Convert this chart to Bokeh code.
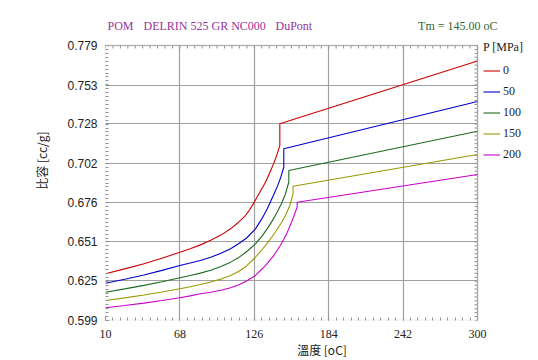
import numpy as np
from bokeh.plotting import figure
from bokeh.models import (FixedTicker, Range1d, Legend, LegendItem, Label,
                          BoxAnnotation, NumeralTickFormatter)
from bokeh.embed import file_html
from bokeh.resources import INLINE

# ---------------- data ----------------
pressures = ["0", "50", "100", "150", "200"]
colors = ["#cc0000", "#0000cc", "#1e6b1e", "#9a9a00", "#cc00cc"]

# solid phase (T, v) up to the transition temperature
t_p0 = [10, 25, 40, 54, 68, 76, 84, 92, 100, 107.5, 113, 119.1, 122.5, 125.6, 130, 134.7, 138, 141.2, 143.5, 145.9]
v_p0 = [0.6296, 0.6328, 0.6362, 0.6398, 0.6437, 0.6460, 0.6485, 0.6515, 0.6549, 0.6590, 0.6628, 0.6677,
        0.6716, 0.6760, 0.6824, 0.6895, 0.6955, 0.7020, 0.7072, 0.7135]
t_p50 = [10, 25, 40, 54, 68, 76, 84, 92, 100, 107.5, 114, 120, 126.9, 132.2, 136.1, 141.2, 144, 146.4, 149.0]
v_p50 = [0.6234, 0.6260, 0.6288, 0.6318, 0.6350, 0.6366, 0.6383, 0.6404, 0.6430, 0.6460, 0.6494, 0.6530,
         0.6590, 0.6660, 0.6722, 0.6815, 0.6868, 0.6922, 0.6993]
t_p100 = [10, 25, 40, 54, 68, 76, 84, 92, 100, 107.5, 114, 120, 126.9, 132, 136, 140, 143.5, 147, 150, 152.9]
v_p100 = [0.6175, 0.6197, 0.6220, 0.6244, 0.6270, 0.6284, 0.6300, 0.6319, 0.6343, 0.6372, 0.6403, 0.6440,
          0.6492, 0.6542, 0.6590, 0.6642, 0.6693, 0.6752, 0.6812, 0.6895]
t_p150 = [10, 25, 40, 54, 68, 76, 84, 92, 100, 107.5, 114, 120, 126.9, 132, 136, 140, 143.5, 147, 150.3, 153.7, 156.2]
v_p150 = [0.6121, 0.6138, 0.6157, 0.6177, 0.6198, 0.6211, 0.6226, 0.6242, 0.6261, 0.6285, 0.6312, 0.6347,
          0.6404, 0.6453, 0.6495, 0.6540, 0.6582, 0.6628, 0.6677, 0.6743, 0.6819]
t_p200 = [10, 25, 40, 54, 68, 76, 84, 92, 100, 107.5, 114, 120, 126.9, 132, 136, 140, 142.5, 146.4, 149, 151.6, 155.5, 159.4]
v_p200 = [0.6073, 0.6088, 0.6104, 0.6121, 0.6139, 0.6151, 0.6165, 0.6175, 0.6188, 0.6204, 0.6224, 0.6248,
          0.6285, 0.6327, 0.6362, 0.6403, 0.6432, 0.6483, 0.6522, 0.6565, 0.6643, 0.6732]

# melt phase: value just above the transition, and value at 300 oC
melt_v_start = [0.7278, 0.7114, 0.6972, 0.6869, 0.6764]
melt_t_end = 300
melt_v_end = [0.7689, 0.7423, 0.7229, 0.7077, 0.6946]

solid_t = [t_p0, t_p50, t_p100, t_p150, t_p200]
solid_v = [v_p0, v_p50, v_p100, v_p150, v_p200]

x_ticks = [10, 68, 126, 184, 242, 300]
y_ticks = [0.599, 0.625, 0.651, 0.676, 0.702, 0.728, 0.753, 0.779]

title_parts = ["POM", "DELRIN 525 GR NC000", "DuPont"]
tm_text = "Tm = 145.00 oC"
x_label = "溫度 [oC]"
y_label = "比容 [cc/g]"
legend_title = "P [MPa]"

# ---------------- geometry ----------------
W, H = 538, 360
LEFT, BOTTOM = 105, 40            # frame starts here; frame extends to the top/right edges
PLOT_W, PLOT_H = 372, 275          # size of the drawn plot box
x0, x1 = x_ticks[0], x_ticks[-1]
y0, y1 = y_ticks[0], y_ticks[-1]
dx = (x1 - x0) / PLOT_W            # data units per pixel
dy = (y1 - y0) / PLOT_H
x_hi = x0 + (W - LEFT) * dx
y_hi = y0 + (H - BOTTOM) * dy

p = figure(width=W, height=H, output_backend="svg", toolbar_location=None,
           x_range=Range1d(x0, x_hi), y_range=Range1d(y0, y_hi),
           min_border_left=LEFT, min_border_right=0, min_border_top=0,
           min_border_bottom=BOTTOM, background_fill_color="white",
           border_fill_color="white")
p.outline_line_color = None

x_minor = list(np.linspace(x0, x1, 51))
y_minor = list(np.linspace(y0, y1, 71))
xt = FixedTicker(ticks=x_ticks, minor_ticks=x_minor)
yt = FixedTicker(ticks=y_ticks, minor_ticks=y_minor)

p.xaxis.ticker = xt
p.yaxis.ticker = yt
p.yaxis.formatter = NumeralTickFormatter(format="0.000")

for ax in (p.xaxis[0], p.yaxis[0]):
    ax.axis_line_color = None
    ax.major_tick_in = 4
    ax.major_tick_out = 0
    ax.minor_tick_in = 3
    ax.minor_tick_out = 0
    ax.major_tick_line_color = "#909090"
    ax.minor_tick_line_color = "#909090"
    ax.major_label_text_color = "#222222"
    ax.major_label_text_font_size = "12px"
    ax.axis_label_text_font_style = "normal"
    ax.axis_label_text_font_size = "12px"
    ax.axis_label_text_color = "#222222"

p.xaxis.major_label_text_font = "Liberation Serif"
p.xaxis.major_label_standoff = 9
p.xaxis.axis_label = x_label
p.xaxis.axis_label_text_font = "Noto Sans CJK TC"
p.xaxis.axis_label_standoff = 0

p.yaxis.major_label_text_font = "Liberation Sans"
p.yaxis.major_label_standoff = 8
p.yaxis.axis_label = y_label
p.yaxis.axis_label_text_font = "Noto Sans CJK TC"
p.yaxis.axis_label_standoff = 14

# ---------------- grid limited to the plot box ----------------
xg, yg = p.xgrid[0], p.ygrid[0]
xg.ticker = xt
yg.ticker = yt
for g in (xg, yg):
    g.grid_line_color = "#a0a0a0"
    g.grid_line_width = 1.2
if "cross_bounds" in xg.properties():
    xg.cross_bounds = (y0, y1)
    yg.cross_bounds = (x0, x1)
else:
    p.grid.visible = False
    p.segment(x0=x_ticks, x1=x_ticks, y0=[y0] * len(x_ticks), y1=[y1] * len(x_ticks),
              line_color="#a0a0a0", line_width=1.2)
    p.segment(x0=[x0] * len(y_ticks), x1=[x1] * len(y_ticks), y0=y_ticks, y1=y_ticks,
              line_color="#a0a0a0", line_width=1.2)

# minor ticks on the top and right edges of the plot box
p.segment(x0=x_minor, x1=x_minor, y0=[y1] * len(x_minor), y1=[y1 - 3 * dy] * len(x_minor),
          line_color="#909090", line_width=1)
p.segment(x0=[x1] * len(y_minor), x1=[x1 - 3 * dx] * len(y_minor), y0=y_minor, y1=y_minor,
          line_color="#909090", line_width=1)

# ---------------- curves ----------------
items = []
for i in range(len(pressures)):
    ts = list(solid_t[i]) + [solid_t[i][-1], melt_t_end]
    vs = list(solid_v[i]) + [melt_v_start[i], melt_v_end[i]]
    r = p.line(ts, vs, line_color=colors[i], line_width=1.1)
    items.append(LegendItem(label=pressures[i], renderers=[r]))

# plot box border
p.add_layout(BoxAnnotation(left=x0, right=x1, bottom=y0, top=y1, fill_alpha=0,
                           line_color="#c4c4c4", line_width=2))

legend = Legend(items=items, location=(PLOT_W + 6, 157), title=legend_title,
                title_text_font="Liberation Serif", title_text_font_size="12px",
                title_text_font_style="normal", title_text_color="#222222",
                title_standoff=7,
                label_text_font="Liberation Serif", label_text_font_size="12px",
                label_text_color="#222222",
                glyph_width=17, glyph_height=17, label_height=17, label_standoff=3,
                spacing=4, padding=0, margin=0, border_line_color=None,
                background_fill_alpha=0)
p.add_layout(legend)

# ---------------- header texts ----------------
y_head = y1 + 20 * dy
for txt, px in zip(title_parts, [107, 143, 275]):
    p.add_layout(Label(x=x0 + (px - LEFT) * dx, y=y_head, text=txt,
                       text_font="Liberation Serif", text_font_size="12px",
                       text_color="#993399", text_baseline="middle", text_align="left"))
p.add_layout(Label(x=x0 + (497 - LEFT) * dx, y=y_head, text=tm_text,
                   text_font="Liberation Serif", text_font_size="12px",
                   text_color="#336633", text_baseline="middle", text_align="right"))

open("out.html", "w").write(file_html(p, INLINE))
